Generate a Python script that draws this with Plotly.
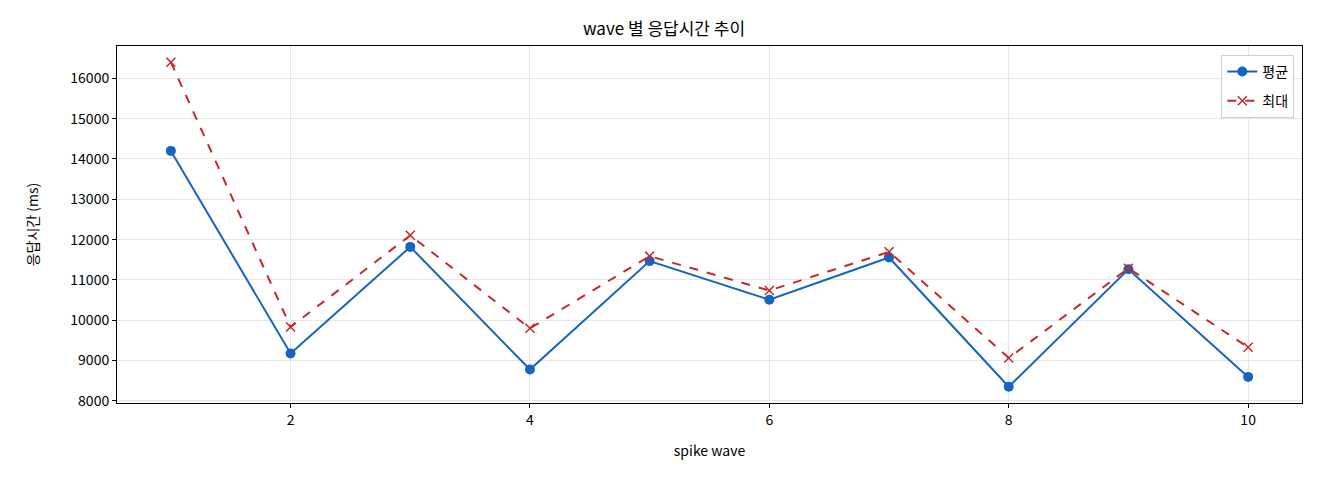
import plotly.graph_objects as go

waves = [1, 2, 3, 4, 5, 6, 7, 8, 9, 10]
avg_ms = [14200, 9175, 11820, 8777, 11467, 10508, 11557, 8350, 11264, 8595]
max_ms = [16400, 9835, 12107, 9800, 11590, 10738, 11697, 9066, 11290, 9330]

font = "Noto Sans CJK KR"

fig = go.Figure()
fig.add_trace(go.Scatter(
    x=waves, y=avg_ms, name="평균", mode="lines+markers", legendgroup="a",
    line=dict(color="#1565C0", width=2),
    marker=dict(symbol="circle", size=10, color="#1565C0"),
))
fig.add_trace(go.Scatter(
    x=waves, y=max_ms, name="최대", mode="lines+markers", legendgroup="b",
    line=dict(color="#C62828", width=2, dash="dash"),
    marker=dict(symbol="x-thin", size=9, line=dict(color="#C62828", width=1.5)),
))

axis_style = dict(
    showline=True, linecolor="black", linewidth=1, mirror=True,
    ticks="outside", ticklen=4, tickcolor="black",
    showgrid=True, gridcolor="#e6e6e6", gridwidth=1,
    zeroline=False, tickfont=dict(size=14, color="black"),
)

# the page body adds 8px around the plot, so the figure is 8px smaller
fig.update_layout(
    width=1312, height=472,
    margin=dict(l=109, r=18, t=38, b=77),
    paper_bgcolor="white", plot_bgcolor="white",
    font=dict(family=font, color="black"),
    title=dict(text="wave 별 응답시간 추이", x=0.5, xanchor="center",
               y=0.955, yanchor="middle", font=dict(size=17)),
    legend=dict(x=0.9935, y=0.975, xanchor="right", yanchor="top",
                bordercolor="#d0d0d0", borderwidth=1, bgcolor="white",
                traceorder="grouped", tracegroupgap=8,
                font=dict(size=14)),
    xaxis=dict(axis_style, range=[0.55, 10.45], tickvals=[2, 4, 6, 8, 10],
               title=dict(text="spike wave", font=dict(size=14), standoff=18)),
    yaxis=dict(axis_style, range=[7948, 16802], dtick=1000,
               tickformat="d",
               title=dict(text="응답시간 (ms)", font=dict(size=14), standoff=28)),
)

fig.write_html("out.html")
